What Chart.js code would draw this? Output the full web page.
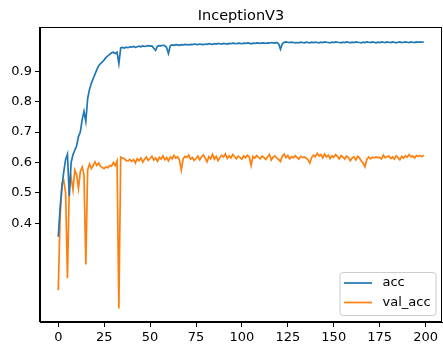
<!DOCTYPE html>
<html>
<head>
<meta charset="utf-8">
<script src="https://cdn.jsdelivr.net/npm/chart.js@4.4.1/dist/chart.umd.min.js"></script>
<style>
html,body{margin:0;padding:0;background:#fff;}
#wrap{width:443px;height:349px;position:relative;}
</style>
</head>
<body>
<div id="wrap"><canvas id="c" width="443" height="349"></canvas></div>
<script>
const chartTitle = "InceptionV3";
const seriesNames = ["acc", "val_acc"];
const xTickValues = [0, 25, 50, 75, 100, 125, 150, 175, 200];
const yTickValues = [0.4, 0.5, 0.6, 0.7, 0.8, 0.9];

const acc = [
0.356,0.45,0.52,0.57,0.61,0.627,0.49,0.60,0.625,0.64,
0.655,0.685,0.70,0.74,0.768,0.735,0.81,0.84,0.86,0.875,
0.89,0.905,0.918,0.925,0.93,0.937,0.945,0.95,0.955,0.96,
0.962,0.958,0.962,0.925,0.976,0.978,0.976,0.979,0.977,0.980,
0.979,0.981,0.978,0.980,0.982,0.980,0.983,0.981,0.982,0.984,
0.982,0.983,0.975,0.968,0.982,0.984,0.983,0.985,0.984,0.978,
0.958,0.984,0.986,0.985,0.987,0.986,0.985,0.987,0.986,0.988,
0.987,0.986,0.988,0.987,0.989,0.988,0.987,0.989,0.988,0.987,
0.989,0.988,0.990,0.989,0.988,0.990,0.989,0.991,0.990,0.989,
0.991,0.990,0.989,0.991,0.990,0.992,0.991,0.990,0.992,0.991,
0.990,0.992,0.991,0.993,0.992,0.990,0.992,0.991,0.993,0.992,
0.991,0.993,0.992,0.991,0.993,0.992,0.994,0.993,0.992,0.994,
0.990,0.972,0.990,0.995,0.996,0.995,0.994,0.995,0.994,0.993,
0.994,0.993,0.995,0.994,0.993,0.995,0.994,0.993,0.995,0.994,
0.995,0.994,0.993,0.995,0.994,0.996,0.995,0.994,0.993,0.995,
0.994,0.996,0.995,0.994,0.993,0.995,0.994,0.996,0.995,0.993,
0.995,0.994,0.996,0.995,0.994,0.993,0.995,0.994,0.996,0.995,
0.994,0.996,0.995,0.993,0.995,0.994,0.996,0.995,0.994,0.996,
0.995,0.994,0.996,0.995,0.993,0.995,0.996,0.994,0.995,0.996,
0.995,0.994,0.996,0.995,0.994,0.996,0.995,0.996,0.995,0.996
];

const valAcc = [
0.18,0.42,0.53,0.54,0.50,0.22,0.52,0.55,0.51,0.575,
0.56,0.515,0.57,0.585,0.56,0.265,0.575,0.595,0.58,0.59,
0.602,0.59,0.598,0.588,0.583,0.58,0.585,0.583,0.59,0.588,
0.60,0.59,0.605,0.12,0.618,0.615,0.612,0.606,0.605,0.61,
0.603,0.610,0.598,0.612,0.606,0.615,0.601,0.611,0.618,0.607,
0.613,0.620,0.608,0.615,0.604,0.617,0.611,0.622,0.609,0.616,
0.605,0.618,0.612,0.623,0.614,0.619,0.608,0.575,0.612,0.620,
0.617,0.624,0.611,0.616,0.607,0.613,0.621,0.609,0.618,0.625,
0.614,0.602,0.619,0.612,0.627,0.611,0.620,0.606,0.616,0.624,
0.618,0.628,0.613,0.622,0.615,0.626,0.619,0.612,0.621,0.617,
0.611,0.622,0.616,0.624,0.618,0.590,0.620,0.614,0.623,0.617,
0.612,0.621,0.616,0.610,0.619,0.626,0.608,0.618,0.622,0.614,
0.610,0.603,0.621,0.627,0.616,0.623,0.612,0.619,0.615,0.622,
0.617,0.611,0.620,0.616,0.618,0.614,0.609,0.598,0.617,0.624,
0.619,0.630,0.621,0.626,0.615,0.628,0.618,0.624,0.613,0.622,
0.617,0.626,0.620,0.612,0.623,0.618,0.611,0.621,0.616,0.606,
0.614,0.619,0.608,0.620,0.615,0.605,0.598,0.586,0.610,0.618,
0.612,0.617,0.615,0.618,0.616,0.617,0.612,0.624,0.616,0.619,
0.621,0.613,0.618,0.611,0.622,0.616,0.609,0.620,0.614,0.622,
0.617,0.626,0.619,0.621,0.615,0.623,0.620,0.622,0.619,0.624
];

const epochs = acc.map((_, i) => i);

const FONT = "'DejaVu Sans', sans-serif";
const colors = ["#1f77b4", "#ff7f0e"];

const framePlugin = {
  id: 'frame',
  afterDraw(chart) {
    const ctx = chart.ctx;
    const a = chart.chartArea;
    ctx.save();
    ctx.strokeStyle = '#000';
    ctx.lineWidth = 1;
    ctx.strokeRect(Math.round(a.left) - 0.5, Math.round(a.top) + 0.5, Math.round(a.right - a.left), Math.round(a.bottom - a.top) - 1);
    // title
    ctx.fillStyle = '#000';
    ctx.font = '14.5px ' + FONT;
    ctx.textAlign = 'center';
    ctx.textBaseline = 'alphabetic';
    ctx.fillText(chartTitle, (a.left + a.right) / 2, 20);
    // legend
    const lx = 340, ly = 272.5, lw = 96, lh = 43, r = 3;
    ctx.beginPath();
    ctx.moveTo(lx + r, ly);
    ctx.lineTo(lx + lw - r, ly);
    ctx.arcTo(lx + lw, ly, lx + lw, ly + r, r);
    ctx.lineTo(lx + lw, ly + lh - r);
    ctx.arcTo(lx + lw, ly + lh, lx + lw - r, ly + lh, r);
    ctx.lineTo(lx + r, ly + lh);
    ctx.arcTo(lx, ly + lh, lx, ly + lh - r, r);
    ctx.lineTo(lx, ly + r);
    ctx.arcTo(lx, ly, lx + r, ly, r);
    ctx.closePath();
    ctx.fillStyle = 'rgba(255,255,255,0.8)';
    ctx.fill();
    ctx.strokeStyle = '#cccccc';
    ctx.lineWidth = 1;
    ctx.stroke();
    const rows = [283, 302.5];
    seriesNames.forEach((name, i) => {
      ctx.beginPath();
      ctx.strokeStyle = colors[i];
      ctx.lineWidth = 1.7;
      ctx.moveTo(344, rows[i]);
      ctx.lineTo(372, rows[i]);
      ctx.stroke();
      ctx.fillStyle = '#000';
      ctx.font = '13px ' + FONT;
      ctx.textAlign = 'left';
      ctx.textBaseline = 'middle';
      ctx.fillText(name, 382.5, rows[i]);
    });
    ctx.restore();
  }
};

new Chart(document.getElementById('c'), {
  type: 'line',
  data: {
    datasets: [
      { label: seriesNames[0], data: epochs.map((e, i) => ({x: e, y: acc[i]})), borderColor: colors[0], backgroundColor: colors[0], borderWidth: 1.7, pointRadius: 0, tension: 0, fill: false },
      { label: seriesNames[1], data: epochs.map((e, i) => ({x: e, y: valAcc[i]})), borderColor: colors[1], backgroundColor: colors[1], borderWidth: 1.7, pointRadius: 0, tension: 0, fill: false }
    ]
  },
  options: {
    responsive: false,
    animation: false,
    devicePixelRatio: 1,
    layout: { padding: { top: 27, right: 1, left: 0, bottom: 0 } },
    plugins: { legend: { display: false }, title: { display: false }, tooltip: { enabled: false } },
    scales: {
      x: {
        type: 'linear', min: -9.95, max: 208.95,
        afterBuildTicks: s => { s.ticks = xTickValues.map(v => ({ value: v })); },
        afterFit: s => { s.height = 27; },
        ticks: { font: { family: FONT, size: 13 }, color: '#000', padding: 3, maxRotation: 0, autoSkip: false },
        grid: { drawOnChartArea: false, drawTicks: true, tickLength: 5, color: '#000', lineWidth: 1 },
        border: { display: true, color: '#000', width: 1 }
      },
      y: {
        type: 'linear', min: 0.076, max: 1.045,
        afterBuildTicks: s => { s.ticks = yTickValues.map(v => ({ value: v })); },
        afterFit: s => { s.width = 40; },
        ticks: { font: { family: FONT, size: 13 }, color: '#000', padding: 3, callback: v => v.toFixed(1) },
        grid: { drawOnChartArea: false, drawTicks: true, tickLength: 5, color: '#000', lineWidth: 1 },
        border: { display: true, color: '#000', width: 1 }
      }
    }
  },
  plugins: [framePlugin]
});
</script>
</body>
</html>
